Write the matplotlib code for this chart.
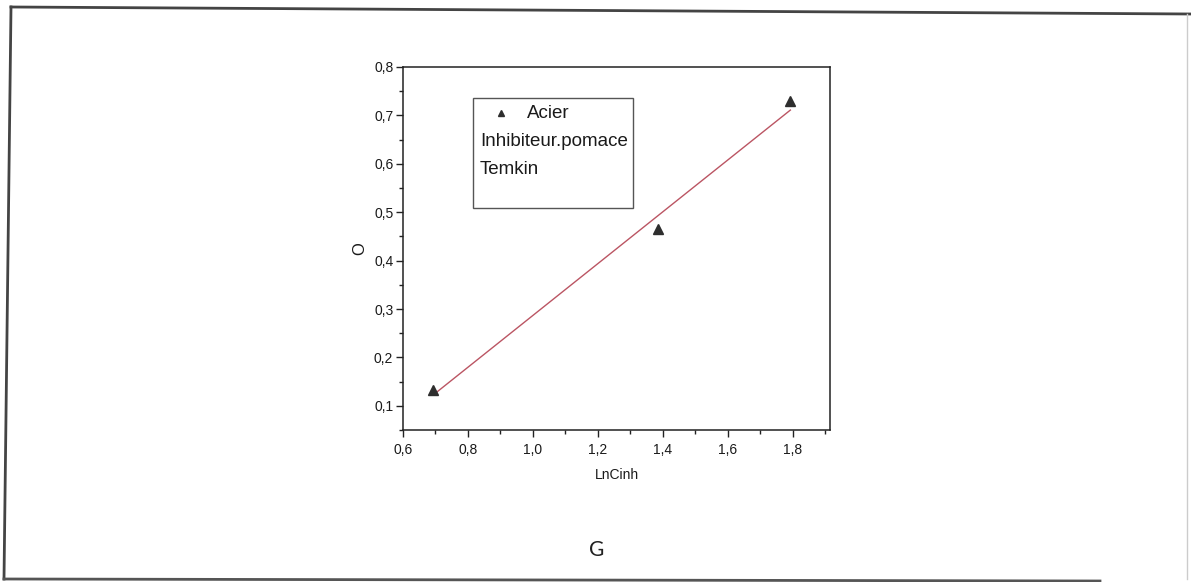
import numpy as np
import matplotlib
matplotlib.use("Agg")
import matplotlib.pyplot as plt
from matplotlib.lines import Line2D
from matplotlib.ticker import MultipleLocator, FuncFormatter

# Temkin isotherm data: ln(C_inh) vs surface coverage
ln_cinh = [0.693, 1.386, 1.792]
theta = [0.133, 0.465, 0.729]

x_ticks = [0.6, 0.8, 1.0, 1.2, 1.4, 1.6, 1.8]
y_ticks = [0.1, 0.2, 0.3, 0.4, 0.5, 0.6, 0.7, 0.8]

series_label = "Acier"
note_lines = ["Inhibiteur.pomace", "Temkin"]
x_label = "LnCinh"
y_label = "O"
caption = "G"

W, H = 1191, 582
fig = plt.figure(figsize=(W / 100, H / 100), dpi=100)
fig.patch.set_facecolor("white")

def px(x, y):
    return x / W, 1 - y / H

# page frame around the figure
frame = [((11, 7), (1191, 14), "#444444", 2.0),
         ((11, 7), (4, 579), "#444444", 2.0),
         ((4, 579), (1100, 581), "#555555", 2.0),
         ((1187, 14), (1187, 579), "#cccccc", 1.0)]
for (a, b, c, lw) in frame:
    (x0, y0), (x1, y1) = px(*a), px(*b)
    fig.add_artist(Line2D([x0, x1], [y0, y1], transform=fig.transFigure,
                          color=c, lw=lw))

left, right, top, bottom = 403, 830, 67, 430
ax = fig.add_axes([left / W, 1 - bottom / H, (right - left) / W, (bottom - top) / H])

font = "Liberation Sans"
ax.set_xlim(0.6, 1.914)
ax.set_ylim(0.05, 0.8)

ax.xaxis.set_major_locator(MultipleLocator(0.2))
ax.xaxis.set_minor_locator(MultipleLocator(0.1))
ax.yaxis.set_major_locator(MultipleLocator(0.1))
ax.yaxis.set_minor_locator(MultipleLocator(0.05))
ax.set_xticks(x_ticks)
ax.set_yticks(y_ticks)
comma = FuncFormatter(lambda v, p: f"{v:.1f}".replace(".", ","))
ax.xaxis.set_major_formatter(comma)
ax.yaxis.set_major_formatter(comma)

ax.tick_params(which="both", direction="out", top=False, right=False,
               color="#222222", width=1.0)
ax.tick_params(which="major", length=5, pad=2, labelsize=10,
               labelcolor="#1a1a1a")
ax.tick_params(axis="x", which="major", pad=4.5)
ax.tick_params(which="minor", length=3)
for lab in ax.get_xticklabels() + ax.get_yticklabels():
    lab.set_fontfamily(font)
for s in ax.spines.values():
    s.set_linewidth(1.1)
    s.set_color("#222222")

# data points and linear fit
ax.plot(ln_cinh, theta, linestyle="none", marker="^", ms=7,
        color="#2e2e2e", zorder=3)
slope, intercept = np.polyfit(ln_cinh, theta, 1)
xf = np.array([ln_cinh[0], ln_cinh[-1]])
ax.plot(xf, slope * xf + intercept, color="#bb5563", lw=1.0, zorder=2)

ax.set_xlabel(x_label, fontfamily=font, fontsize=10, labelpad=8, color="#1a1a1a")
ax.set_ylabel(y_label, fontfamily=font, fontsize=12, labelpad=5, color="#1a1a1a")

# legend box with notes
def axf(x, y):
    return (x - left) / (right - left), (bottom - y) / (bottom - top)

bx0, by1 = axf(473, 98)
bx1, by0 = axf(633, 208)
ax.add_patch(plt.Rectangle((bx0, by0), bx1 - bx0, by1 - by0,
                           transform=ax.transAxes, fill=False,
                           edgecolor="#555555", lw=1.0, zorder=4))
mx, my = axf(501, 113)
ax.plot([mx], [my], marker="^", ms=5, color="#2e2e2e",
        transform=ax.transAxes, clip_on=False)
tx, ty = axf(527, 113)
ax.text(tx, ty, series_label, transform=ax.transAxes, fontfamily=font,
        fontsize=13.5, va="center", ha="left", color="#1a1a1a")
for i, line in enumerate(note_lines):
    lx, ly = axf(480, 142 + 28 * i)
    ax.text(lx, ly, line, transform=ax.transAxes, fontfamily=font,
            fontsize=13.5, va="center", ha="left", color="#1a1a1a")

cx, cy = px(597, 550)
fig.text(cx, cy, caption, fontfamily="Lato", fontsize=15, ha="center",
         va="center", color="#222222")

fig.savefig("out.png", dpi=100, facecolor="white")
